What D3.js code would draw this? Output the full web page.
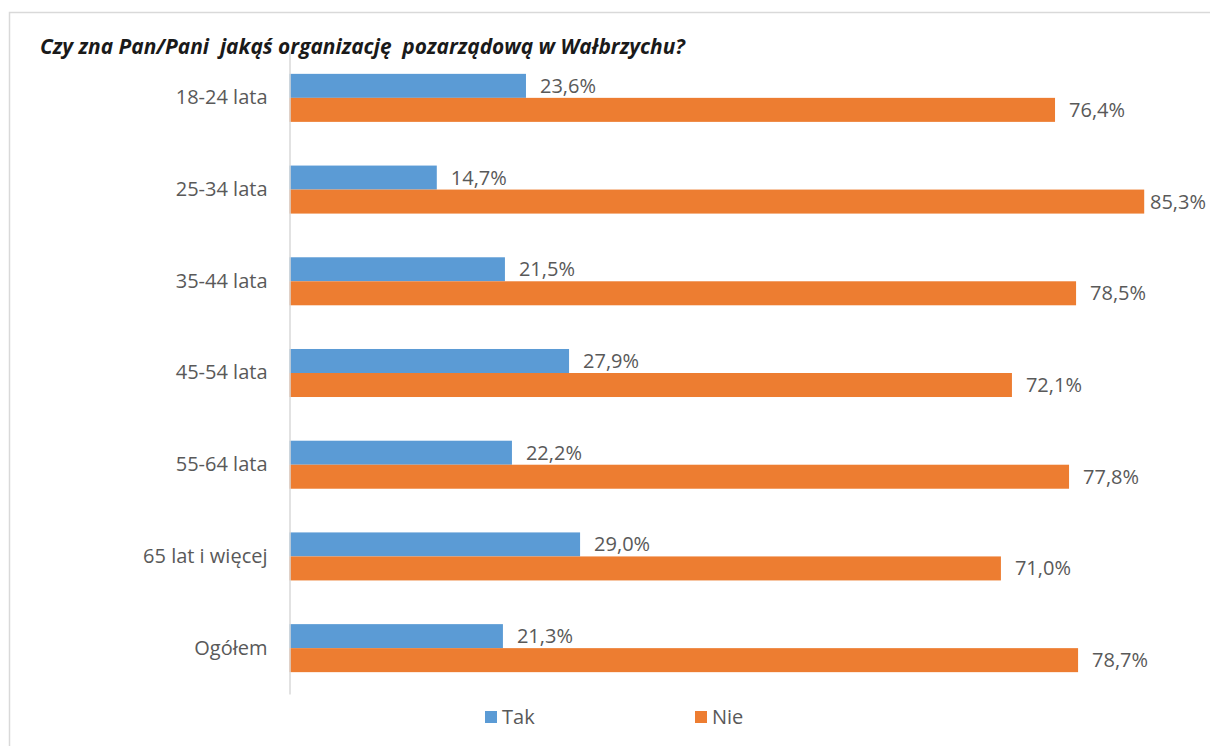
<!DOCTYPE html>
<html>
<head>
<meta charset="utf-8">
<script src="https://cdn.jsdelivr.net/npm/d3@7"></script>
<style>
  html, body { margin: 0; padding: 0; background: #fff; }
  svg { display: block; font-family: "Open Sans", "Noto Sans", sans-serif; }
</style>
</head>
<body>
<svg id="chart" width="1210" height="746"></svg>
<script>
const title = "Czy zna Pan/Pani  jakąś organizację  pozarządową w Wałbrzychu?";
const categories = ["18-24 lata", "25-34 lata", "35-44 lata", "45-54 lata", "55-64 lata", "65 lat i więcej", "Ogółem"];
const seriesNames = ["Tak", "Nie"];
const takValues = [23.6, 14.7, 21.5, 27.9, 22.2, 29.0, 21.3];
const nieValues = [76.4, 85.3, 78.5, 72.1, 77.8, 71.0, 78.7];
const colors = ["#5b9bd5", "#ed7d31"];

const svg = d3.select("#chart");
const W = 1210, H = 746;

// outer frame
svg.append("rect")
  .attr("x", 9.5).attr("y", 12.5)
  .attr("width", W).attr("height", H)
  .attr("fill", "none").attr("stroke", "#d9d9d9").attr("stroke-width", 1.5);

// title
svg.append("text")
  .attr("x", 40).attr("y", 54)
  .attr("font-size", 20.9).attr("font-weight", "bold").attr("font-style", "italic")
  .attr("fill", "#1a1a1a")
  .style("white-space", "pre")
  .text(title);

const x = d3.scaleLinear().domain([0, 90]).range([289.5, 1191.3]);
const y = d3.scaleBand().domain(categories).range([52, 694]).paddingInner(0).paddingOuter(0);
const ySub = d3.scaleBand().domain(seriesNames).range([0, y.bandwidth()]).paddingInner(0).paddingOuter(0.91);

const rows = categories.map((c, i) => ({ cat: c, vals: [takValues[i], nieValues[i]] }));

const g = svg.append("g");
const groups = g.selectAll("g.cat").data(rows).join("g")
  .attr("class", "cat")
  .attr("transform", d => `translate(0,${y(d.cat)})`);

groups.selectAll("rect").data(d => d.vals.map((v, j) => ({ s: seriesNames[j], v, j })))
  .join("rect")
  .attr("x", x(0))
  .attr("y", d => ySub(d.s))
  .attr("width", d => x(d.v) - x(0))
  .attr("height", ySub.bandwidth())
  .attr("fill", d => colors[d.j]);

const fmt = v => d3.format(".1f")(v).replace(".", ",") + "%";
groups.selectAll("text.val").data(d => d.vals.map((v, j) => ({ s: seriesNames[j], v, j })))
  .join("text")
  .attr("class", "val")
  .attr("x", d => x(d.v) + 14)
  .attr("y", d => ySub(d.s) + ySub.bandwidth() / 2)
  .attr("dy", "0.35em")
  .attr("font-size", 20)
  .attr("fill", "#595959")
  .text(d => fmt(d.v))
  .each(function() {
    const t = d3.select(this);
    const w = this.getComputedTextLength();
    const x0 = +t.attr("x");
    if (x0 + w > W - 4) t.attr("x", W - 4 - w);
  });

// category axis
const yAxis = d3.axisLeft(y).tickSize(0).tickPadding(22);
const ax = svg.append("g").attr("transform", `translate(${x(0)},0)`).call(yAxis);
ax.select(".domain").attr("stroke", "#d9d9d9").attr("stroke-width", 1.5);
ax.selectAll(".tick text")
  .attr("font-size", 20)
  .attr("font-family", '"Open Sans", "Noto Sans", sans-serif')
  .attr("fill", "#595959");

// legend
const legend = svg.append("g");
const legX = [485, 695];
seriesNames.forEach((s, j) => {
  legend.append("rect").attr("x", legX[j]).attr("y", 711).attr("width", 12).attr("height", 12).attr("fill", colors[j]);
  legend.append("text").attr("x", legX[j] + 17).attr("y", 724)
    .attr("font-size", 20).attr("fill", "#595959").text(s);
});
</script>
</body>
</html>
